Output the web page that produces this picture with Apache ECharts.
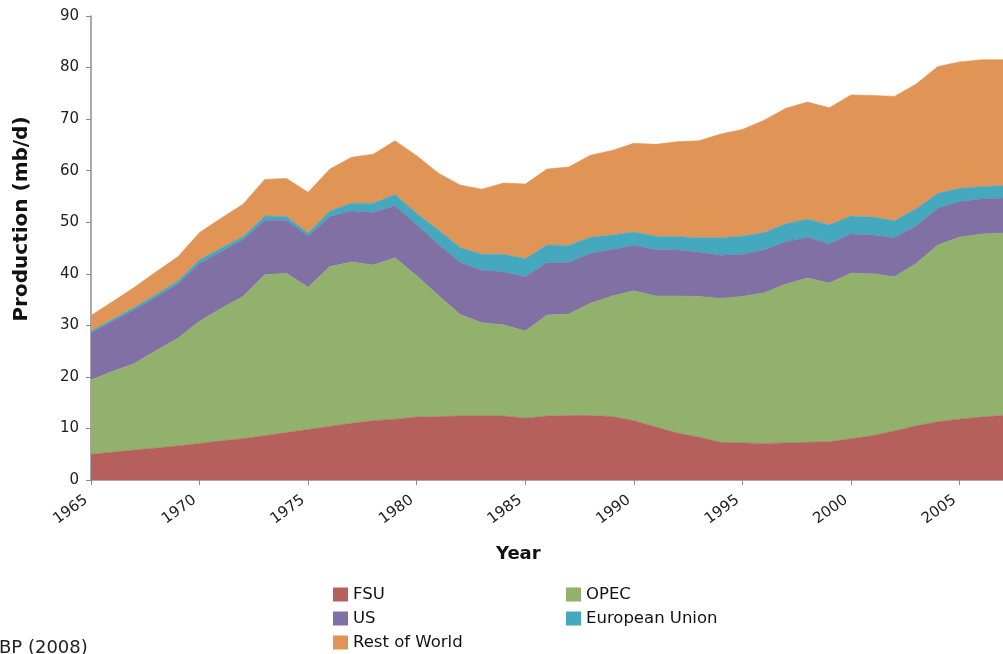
<!DOCTYPE html>
<html>
<head>
<meta charset="utf-8">
<script src="https://cdn.jsdelivr.net/npm/echarts@6/dist/echarts.min.js"></script>
<style>
  html, body { margin: 0; padding: 0; background: #fff; }
  #chart { width: 1003px; height: 654px; }
</style>
</head>
<body>
<div id="chart"></div>
<script>
  // years on the x axis
  var years = [];
  for (var y = 1965; y <= 2007; y++) years.push(String(y));

  // production by region, mb/d (read from the stacked areas)
  var fsu = [5.0, 5.4, 5.8, 6.2, 6.6, 7.1, 7.6, 8.0, 8.6, 9.2, 9.8, 10.4, 11.0, 11.5, 11.8,
    12.2, 12.3, 12.4, 12.4, 12.4, 12.0, 12.4, 12.5, 12.5, 12.3, 11.5, 10.3, 9.1,
    8.3, 7.3, 7.2, 7.1, 7.2, 7.3, 7.4, 8.0, 8.6, 9.5, 10.5, 11.3, 11.8, 12.2, 12.5];
  var opec = [14.4, 15.7, 16.8, 18.9, 20.9, 23.7, 25.7, 27.6, 31.2, 30.9, 27.6, 31.0, 31.3, 30.2, 31.3,
    27.4, 23.5, 19.7, 18.1, 17.7, 16.9, 19.6, 19.7, 21.8, 23.4, 25.2, 25.4, 26.6,
    27.3, 27.9, 28.4, 29.2, 30.8, 31.9, 30.8, 32.1, 31.4, 29.9, 31.5, 34.3, 35.3, 35.5, 35.4];
  var us = [9.1, 9.7, 10.4, 10.4, 10.5, 11.2, 11.0, 11.0, 10.6, 10.3, 9.9, 9.7, 9.9, 10.2, 10.1,
    9.9, 9.9, 10.1, 10.2, 10.3, 10.5, 10.2, 10.0, 9.7, 9.0, 8.8, 9.0, 8.9,
    8.6, 8.4, 8.2, 8.3, 8.2, 7.9, 7.6, 7.6, 7.5, 7.6, 7.3, 7.1, 6.9, 6.8, 6.8];
  var eu = [0.4, 0.4, 0.5, 0.5, 0.6, 0.7, 0.7, 0.6, 0.8, 0.7, 0.6, 1.1, 1.5, 1.8, 2.2,
    2.2, 2.8, 2.9, 3.1, 3.4, 3.5, 3.4, 3.3, 3.1, 2.8, 2.6, 2.6, 2.6,
    2.8, 3.4, 3.5, 3.4, 3.5, 3.5, 3.7, 3.5, 3.5, 3.3, 3.3, 2.9, 2.6, 2.4, 2.4];
  var row = [3.0, 3.4, 3.9, 4.4, 4.7, 5.3, 5.8, 6.3, 7.1, 7.4, 7.9, 8.1, 8.9, 9.5, 10.4,
    11.2, 11.0, 12.1, 12.6, 13.8, 14.5, 14.7, 15.2, 15.9, 16.4, 17.2, 17.8, 18.4,
    18.8, 20.1, 20.7, 21.8, 22.4, 22.7, 22.7, 23.5, 23.6, 24.1, 24.2, 24.6, 24.5, 24.6, 24.4];

  var names = ['FSU', 'OPEC', 'US', 'European Union', 'Rest of World'];
  var colors = ['#b5605c', '#91b16c', '#8170a4', '#44a9bf', '#e09556'];
  var values = [fsu, opec, us, eu, row];

  // legend slots: [left, top] for each name, two columns like the original
  var legendPos = [[333, 586], [566, 586], [333, 610], [566, 610], [333, 634]];

  var font = 'DejaVu Sans, sans-serif';
  var axisGrey = '#8c8c8c';

  var chart = echarts.init(document.getElementById('chart'), null, { renderer: 'canvas' });

  var series = names.map(function (n, i) {
    return {
      name: n,
      type: 'line',
      stack: 'total',
      data: values[i],
      symbol: 'none',
      lineStyle: { width: 0.6, color: colors[i] },
      areaStyle: { color: colors[i], opacity: 1 },
      itemStyle: { color: colors[i] }
    };
  });

  var legends = names.map(function (n, i) {
    return {
      left: legendPos[i][0],
      top: legendPos[i][1],
      data: [n],
      icon: 'rect',
      itemWidth: 15,
      itemHeight: 14,
      padding: 0,
      textStyle: { fontFamily: font, fontSize: 16.5, color: '#111' },
      selectedMode: false
    };
  });

  var every5 = function (idx) { return idx % 5 === 0; };

  var option = {
    animation: false,
    backgroundColor: '#ffffff',
    color: colors,
    grid: { left: 91, top: 16, right: -8, bottom: 174, containLabel: false },
    legend: legends,
    xAxis: {
      type: 'category',
      data: years,
      boundaryGap: false,
      axisLine: { lineStyle: { color: axisGrey, width: 1.5 } },
      axisTick: { length: 5, lineStyle: { color: axisGrey }, interval: every5 },
      axisLabel: {
        rotate: 36,
        margin: 15,
        padding: [0, 6, 0, 0],
        fontFamily: font,
        fontSize: 15,
        color: '#222',
        interval: every5
      },
      splitLine: { show: false }
    },
    yAxis: {
      type: 'value',
      min: 0,
      max: 90,
      interval: 10,
      axisLine: { show: true, lineStyle: { color: axisGrey, width: 1.5 } },
      axisTick: { show: true, length: 5, lineStyle: { color: axisGrey } },
      axisLabel: { margin: 12, fontFamily: font, fontSize: 15, color: '#222' },
      splitLine: { show: false }
    },
    graphic: [
      {
        type: 'text',
        x: 22,
        y: 219,
        rotation: Math.PI / 2,
        style: {
          text: 'Production (mb/d)',
          font: 'bold 20px DejaVu Sans',
          fill: '#111',
          align: 'center',
          verticalAlign: 'middle'
        }
      },
      {
        type: 'text',
        left: 496,
        top: 545,
        style: { text: 'Year', font: 'bold 18px DejaVu Sans', fill: '#111' }
      },
      {
        type: 'text',
        left: -1,
        top: 639,
        style: { text: 'BP (2008)', font: '18px DejaVu Sans', fill: '#222' }
      }
    ],
    series: series
  };

  chart.setOption(option);
</script>
</body>
</html>
